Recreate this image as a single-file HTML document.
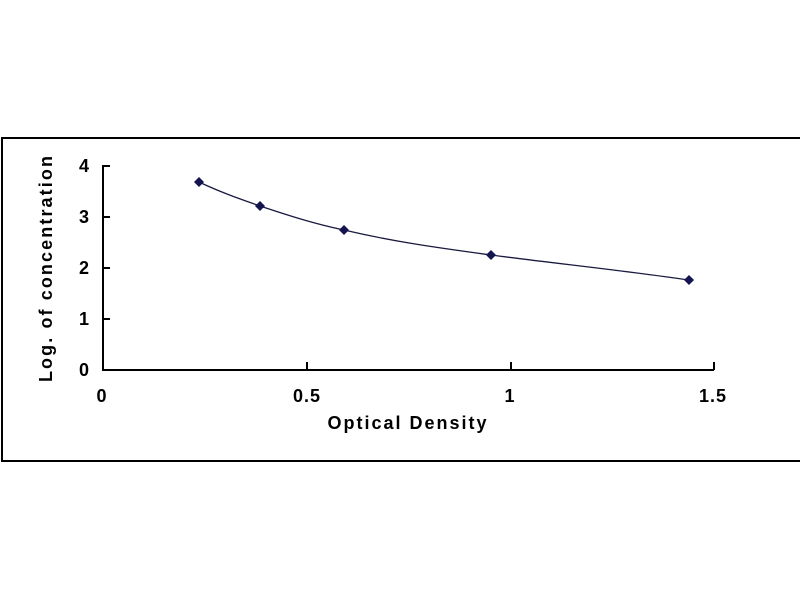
<!DOCTYPE html>
<html><head><style>
body{margin:0;background:#fff;}
svg text{font-family:"Liberation Sans",Arial,sans-serif;font-weight:bold;fill:#000;}
</style></head><body>
<svg width="800" height="600" xmlns="http://www.w3.org/2000/svg">
<rect x="0" y="0" width="800" height="600" fill="#fff"/>
<rect x="2" y="138" width="800" height="323" fill="none" stroke="#000" stroke-width="2"/>
<g stroke="#000" stroke-width="2" fill="none">
<path d="M103 165 V370 H714"/>
<path d="M103 166 H110 M103 217 H110 M103 268 H110 M103 319 H110"/>
<path d="M307 370 V362 M511 370 V362 M714 370 V362"/>
</g>
<path d="M199 182 C220 192 240 199 260 206 C290 216 315 224 344 230 C395 242 440 248 491 255 C560 264 620 270 689 280" stroke="#1a1a40" stroke-width="1.3" fill="none"/>
<g fill="#141450">
<path d="M199 177 l5 5 -5 5 -5 -5z"/>
<path d="M260 201 l5 5 -5 5 -5 -5z"/>
<path d="M344 225 l5 5 -5 5 -5 -5z"/>
<path d="M491 250 l5 5 -5 5 -5 -5z"/>
<path d="M689 275 l5 5 -5 5 -5 -5z"/>
</g>
<g font-size="18" text-anchor="end">
<text x="89" y="172">4</text>
<text x="89" y="223">3</text>
<text x="89" y="274">2</text>
<text x="89" y="325">1</text>
<text x="89" y="376">0</text>
</g>
<g font-size="18" text-anchor="middle" letter-spacing="1">
<text x="102" y="402">0</text>
<text x="307" y="402">0.5</text>
<text x="510" y="402">1</text>
<text x="713" y="402">1.5</text>
</g>
<text x="408" y="429" font-size="18" text-anchor="middle" letter-spacing="2">Optical Density</text>
<text transform="translate(52,268) rotate(-90)" font-size="18" text-anchor="middle" letter-spacing="2.1">Log. of concentration</text>
</svg>
</body></html>
